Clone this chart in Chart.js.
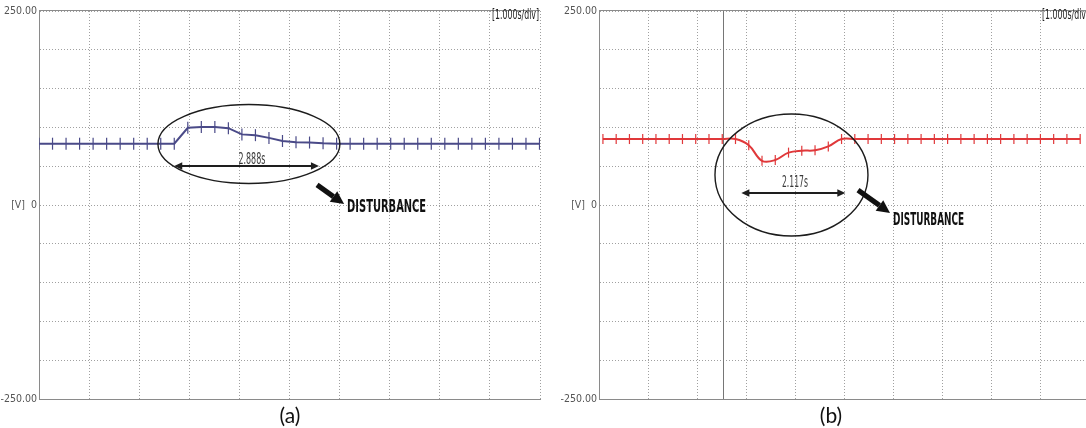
<!DOCTYPE html>
<html>
<head>
<meta charset="utf-8">
<script src="https://cdn.jsdelivr.net/npm/chart.js@4.4.1/dist/chart.umd.min.js"></script>
<style>
  html, body { margin: 0; padding: 0; background: #fff; }
  body { width: 1086px; height: 428px; overflow: hidden; position: relative; }
  canvas { position: absolute; top: 0; }
  #scopeA { left: 0; }
  #scopeB { left: 552px; }
  .cap { position: absolute; top: 402px; width: 60px; text-align: center;
         font: 21px Lato, "Open Sans", sans-serif; color: #111; }
</style>
</head>
<body>
<canvas id="scopeA" width="548" height="428"></canvas>
<canvas id="scopeB" width="560" height="428"></canvas>
<div class="cap" style="left:260px">(a)</div>
<div class="cap" style="left:801px">(b)</div>
<script>
// Recorded voltage traces, one sample per marker (time in s, voltage in V)
const timeA = [0.00, 0.27, 0.54, 0.81, 1.08, 1.35, 1.62, 1.89, 2.16, 2.43,
               2.70, 2.97, 3.24, 3.51, 3.78, 4.05, 4.32, 4.59, 4.86, 5.13,
               5.40, 5.67, 5.94, 6.21, 6.48, 6.75, 7.02, 7.29, 7.56, 7.83,
               8.10, 8.37, 8.64, 8.91, 9.18, 9.45, 9.72, 9.99];
const voltsA = [79, 79, 79, 79, 79, 79, 79, 79, 79, 79,
                79, 99.5, 100.5, 100.5, 99, 91, 90, 86.5, 82.5, 81,
                80.5, 79.5, 79, 79, 79, 79, 79, 79, 79, 79,
                79, 79, 79, 79, 79, 79, 79, 79];

const timeB = [0.08, 0.35, 0.62, 0.89, 1.16, 1.43, 1.70, 1.97, 2.24, 2.51,
               2.78, 3.05, 3.32, 3.59, 3.86, 4.13, 4.40, 4.67, 4.94, 5.21,
               5.48, 5.75, 6.02, 6.29, 6.56, 6.83, 7.10, 7.37, 7.64, 7.91,
               8.18, 8.45, 8.72, 8.99, 9.26, 9.53, 9.80];
const voltsB = [85, 85, 85, 85, 85, 85, 85, 85, 85, 85,
                85, 77, 57, 58, 67.5, 70, 70.5, 75.5, 85, 85,
                85, 85, 85, 85, 85, 85, 85, 85, 85, 85,
                85, 85, 85, 85, 85, 85, 85];

// Axis labelling
const voltTicks = [-250, 0, 250];
const voltTickText = ['-250.00', '[V]  0', '250.00'];
const timeBase = '[1.000s/div]';

// Measured disturbance durations (s)
const durationA = 2.888;
const durationB = 2.117;

const NARROW = '"Liberation Sans Narrow", "DejaVu Sans Condensed", "Arial Narrow", "Liberation Sans", sans-serif';

// Draw a text string squeezed/stretched horizontally to a given width
function fitText(ctx, str, x, y, w, font, color, align) {
  ctx.save();
  ctx.font = font;
  ctx.fillStyle = color;
  ctx.textBaseline = 'middle';
  ctx.textAlign = 'left';
  const m = ctx.measureText(str).width;
  ctx.translate(x, y);
  ctx.scale(w / m, 1);
  const x0 = align === 'right' ? -m : (align === 'center' ? -m / 2 : 0);
  ctx.fillText(str, x0, 0);
  ctx.restore();
}

function arrowHead(ctx, tipX, tipY, dx, dy, len, half) {
  const n = Math.hypot(dx, dy), ux = dx / n, uy = dy / n;
  ctx.beginPath();
  ctx.moveTo(tipX, tipY);
  ctx.lineTo(tipX - ux * len - uy * half, tipY - uy * len + ux * half);
  ctx.lineTo(tipX - ux * len + uy * half, tipY - uy * len - ux * half);
  ctx.closePath();
  ctx.fill();
}

// Scope frame, cursor line and the disturbance markings
const scopeNotes = {
  id: 'scopeNotes',
  beforeDatasetsDraw(chart, args, o) {
    const { ctx, chartArea: a, scales: { x } } = chart;
    ctx.save();
    ctx.lineWidth = 1;
    ctx.strokeStyle = '#8c8c8c';
    ctx.beginPath();
    ctx.moveTo(a.left, Math.round(a.top) - 0.5);
    ctx.lineTo(a.right, Math.round(a.top) - 0.5);
    ctx.stroke();
    if (o.cursor !== undefined) {
      const cx = Math.round(x.getPixelForValue(o.cursor)) + 0.5;
      ctx.strokeStyle = '#767676';
      ctx.beginPath();
      ctx.moveTo(cx, a.top);
      ctx.lineTo(cx, a.bottom);
      ctx.stroke();
    }
    ctx.restore();
  },
  afterDatasetsDraw(chart, args, o) {
    const { ctx, chartArea: a, scales: { x, y } } = chart;
    const px = t => x.getPixelForValue(t);
    const py = v => y.getPixelForValue(v);
    ctx.save();

    // time base readout
    fitText(ctx, timeBase, a.right - 1, a.top + 4, 47, '14px ' + NARROW, '#222', 'right');

    // ellipse around the disturbance
    const e = o.ellipse;
    ctx.strokeStyle = '#1c1c1c';
    ctx.lineWidth = 1.4;
    ctx.beginPath();
    ctx.ellipse(px(e.t), py(e.v), px(e.t + e.rt) - px(e.t), py(e.v) - py(e.v + e.rv), 0, 0, Math.PI * 2);
    ctx.stroke();

    // duration span with arrowheads
    const s = o.span;
    const x0 = px(s.t0), x1 = px(s.t0 + s.dur), sy = py(s.v);
    ctx.strokeStyle = '#1e1e1e';
    ctx.fillStyle = '#1e1e1e';
    ctx.lineWidth = 2;
    ctx.beginPath();
    ctx.moveTo(x0 + 5, sy);
    ctx.lineTo(x1 - 5, sy);
    ctx.stroke();
    arrowHead(ctx, x0, sy, -1, 0, 8, 3.8);
    arrowHead(ctx, x1, sy, 1, 0, 8, 3.8);
    fitText(ctx, s.dur.toFixed(3) + 's', px(s.lt), py(s.lv), s.lw, '15px ' + NARROW, '#3a3a3a', 'center');

    // thick pointer towards the caption
    const p = o.pointer;
    const ax = px(p.t0), ay = py(p.v0), bx = px(p.t1), by = py(p.v1);
    const dx = bx - ax, dy = by - ay, n = Math.hypot(dx, dy), ux = dx / n, uy = dy / n;
    const hl = 13, bw = 2.6;
    const hx = bx - ux * hl, hy = by - uy * hl;
    ctx.fillStyle = '#111';
    ctx.beginPath();
    ctx.moveTo(ax - uy * bw, ay + ux * bw);
    ctx.lineTo(hx - uy * bw, hy + ux * bw);
    ctx.lineTo(hx + uy * bw, hy - ux * bw);
    ctx.lineTo(ax + uy * bw, ay - ux * bw);
    ctx.closePath();
    ctx.fill();
    arrowHead(ctx, bx, by, dx, dy, hl, 6.5);

    fitText(ctx, o.tag.text, px(o.tag.t), py(o.tag.v), o.tag.w, 'bold 17px ' + NARROW, '#111', 'left');
    ctx.restore();
  }
};

function buildScope(canvas, times, volts, color, axisWidth, padRight, markerRadius, smooth, notes) {
  const gridStyle = { color: '#a0a0a0', lineWidth: 1, drawTicks: false, borderDash: [1, 2] };
  const borderStyle = { display: true, color: '#8a8a8a', width: 1, dash: [1, 2] };
  return new Chart(canvas, {
    type: 'line',
    data: {
      datasets: [{
        data: times.map((t, i) => ({ x: t, y: volts[i] })),
        borderColor: color,
        borderWidth: 2,
        pointStyle: 'line',
        rotation: 90,
        pointRadius: markerRadius,
        pointHoverRadius: markerRadius,
        pointBorderColor: color,
        pointBorderWidth: 1.2,
        tension: smooth ? 0.4 : 0,
        fill: false
      }]
    },
    options: {
      responsive: false,
      animation: false,
      devicePixelRatio: 1,
      events: [],
      layout: { padding: { top: 11, right: padRight, bottom: 29, left: 0 } },
      plugins: { legend: { display: false }, tooltip: { enabled: false }, scopeNotes: notes },
      scales: {
        x: {
          type: 'linear', min: 0, max: 10,
          ticks: { display: false, stepSize: 1 },
          grid: gridStyle,
          border: borderStyle,
          afterFit(sc) { sc.height = 0; }
        },
        y: {
          type: 'linear', min: -250, max: 250,
          ticks: {
            stepSize: 50, autoSkip: false, padding: 2, color: '#555',
            font: { family: NARROW, size: 10.5 },
            callback: v => { const i = voltTicks.indexOf(v); return i < 0 ? '' : voltTickText[i]; }
          },
          grid: gridStyle,
          border: borderStyle,
          afterFit(sc) { sc.width = axisWidth; }
        }
      }
    },
    plugins: [scopeNotes]
  });
}

buildScope(document.getElementById('scopeA'), timeA, voltsA, '#4a4a88', 39, 8, 6, false, {
  ellipse: { t: 4.19, v: 78.6, rt: 1.816, rv: 50.9 },
  span: { t0: 2.70, dur: durationA, v: 50.3, lt: 4.25, lv: 58, lw: 27 },
  pointer: { t0: 5.55, v0: 25.8, t1: 6.09, v1: 1.3 },
  tag: { text: 'DISTURBANCE', t: 6.15, v: -3.9, w: 79 }
});

buildScope(document.getElementById('scopeB'), timeB, voltsB, '#e0383a', 47, 22, 5, true, {
  cursor: 2.525,
  ellipse: { t: 3.92, v: 38.7, rt: 1.558, rv: 78.6 },
  span: { t0: 2.90, dur: durationB, v: 15.5, lt: 3.99, lv: 28.4, lw: 26 },
  pointer: { t0: 5.275, v0: 19.3, t1: 5.927, v1: -10.3 },
  tag: { text: 'DISTURBANCE', t: 5.99, v: -20.6, w: 71 }
});
</script>
</body>
</html>
